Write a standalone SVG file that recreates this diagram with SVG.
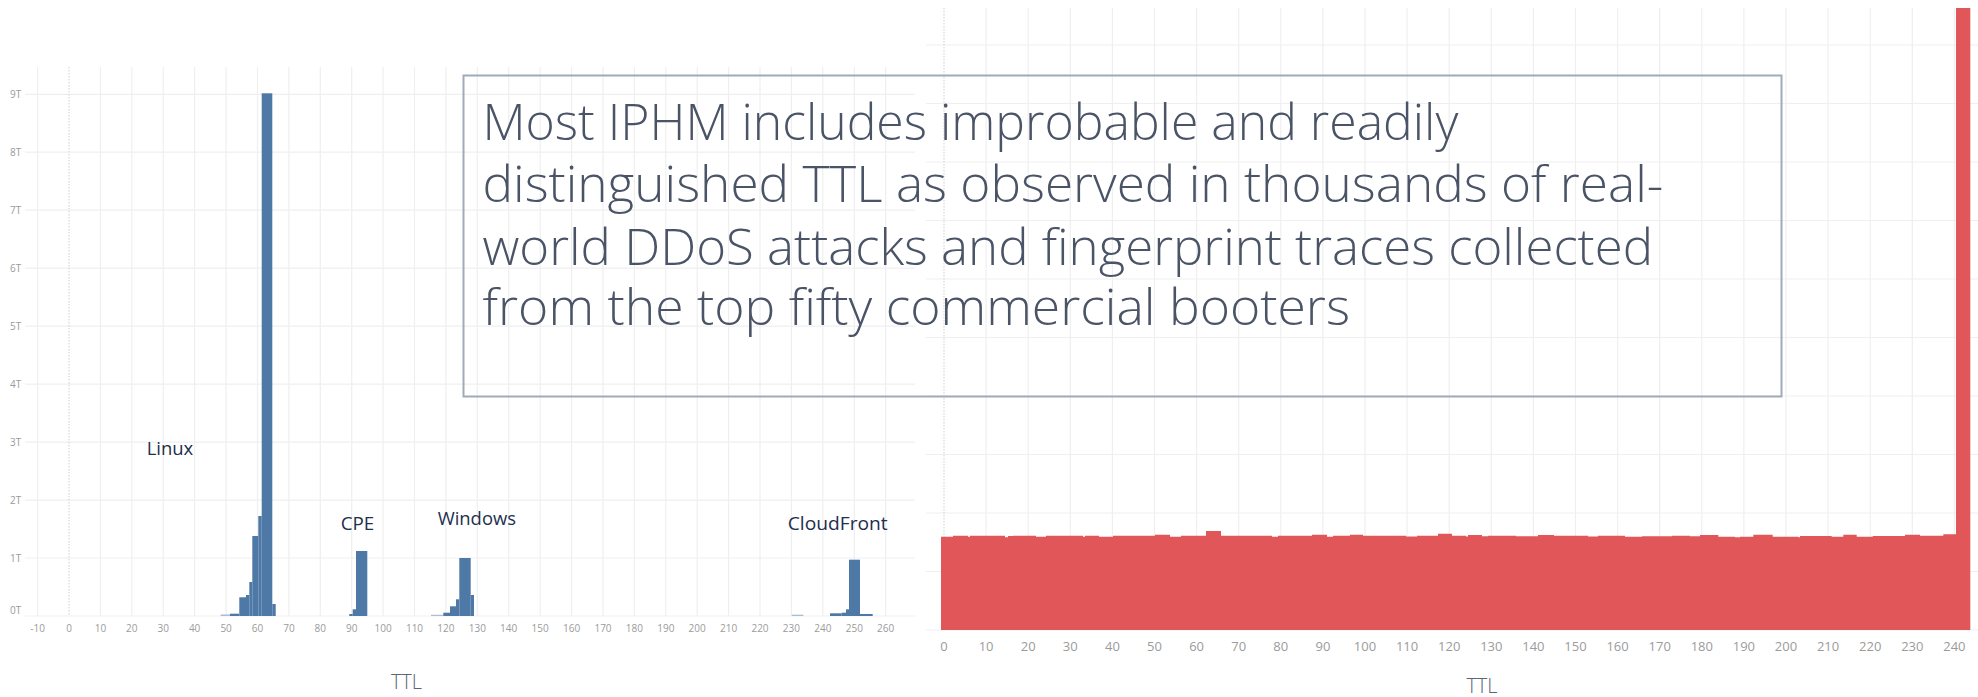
<svg xmlns="http://www.w3.org/2000/svg" width="1978" height="697" viewBox="0 0 1978 697">
<style>
.grid{stroke:#efefef;stroke-width:1.2;fill:none}
.zero{stroke:#cfcfcf;stroke-width:1;stroke-dasharray:1.5 1.5;fill:none}
.tickL{font-family:"Open Sans","Liberation Sans",sans-serif;font-size:10px;fill:#9b9b9b;text-anchor:middle}
.tickY{font-family:"Open Sans","Liberation Sans",sans-serif;font-size:10px;fill:#9b9b9b}
.tickR{font-family:"Open Sans","Liberation Sans",sans-serif;font-size:13px;fill:#9b9b9b;text-anchor:middle}
.axis{font-family:"Open Sans","Liberation Sans",sans-serif;font-size:20px;fill:#5b6577;text-anchor:middle;font-weight:300}
.lbl{font-family:"Open Sans","Liberation Sans",sans-serif;font-size:19px;fill:#222e4d}
.blue{fill:#4e79a7}
.lblue{fill:#a9bdd6}
.red{fill:#e15759}
.call{font-family:"Open Sans","Liberation Sans",sans-serif;font-size:50px;fill:#4a5466;font-weight:300}
</style>
<rect width="1978" height="697" fill="#ffffff"/>

<g id="left-chart">
  <path class="grid" d="M37.6 67V616M100.4 67V616M131.8 67V616M163.2 67V616M194.6 67V616M226.1 67V616M257.5 67V616M288.9 67V616M320.3 67V616M351.7 67V616M383.1 67V616M414.5 67V616M445.9 67V616M477.3 67V616M508.7 67V616M540.2 67V616M571.6 67V616M603 67V616M634.4 67V616M665.8 67V616M697.2 67V616M728.6 67V616M760 67V616M791.4 67V616M822.8 67V616M854.3 67V616M885.7 67V616"/>
  <path class="grid" d="M25 616H915M25 558H915M25 500.1H915M25 442.1H915M25 384.1H915M25 326.2H915M25 268.2H915M25 210.2H915M25 152.2H915M25 94.3H915"/>
  <path class="zero" d="M69 67V616"/>
  <g id="left-yaxis">
    <text class="tickY" x="10" y="613.5">0T</text>
    <text class="tickY" x="10" y="561.5">1T</text>
    <text class="tickY" x="10" y="503.5">2T</text>
    <text class="tickY" x="10" y="445.5">3T</text>
    <text class="tickY" x="10" y="387.5">4T</text>
    <text class="tickY" x="10" y="329.5">5T</text>
    <text class="tickY" x="10" y="271.5">6T</text>
    <text class="tickY" x="10" y="213.5">7T</text>
    <text class="tickY" x="10" y="155.5">8T</text>
    <text class="tickY" x="10" y="97.5">9T</text>
  </g>
  <g id="left-xaxis">
    <text class="tickL" x="37.6" y="631.5">-10</text>
    <text class="tickL" x="69" y="631.5">0</text>
    <text class="tickL" x="100.4" y="631.5">10</text>
    <text class="tickL" x="131.8" y="631.5">20</text>
    <text class="tickL" x="163.2" y="631.5">30</text>
    <text class="tickL" x="194.6" y="631.5">40</text>
    <text class="tickL" x="226.1" y="631.5">50</text>
    <text class="tickL" x="257.5" y="631.5">60</text>
    <text class="tickL" x="288.9" y="631.5">70</text>
    <text class="tickL" x="320.3" y="631.5">80</text>
    <text class="tickL" x="351.7" y="631.5">90</text>
    <text class="tickL" x="383.1" y="631.5">100</text>
    <text class="tickL" x="414.5" y="631.5">110</text>
    <text class="tickL" x="445.9" y="631.5">120</text>
    <text class="tickL" x="477.3" y="631.5">130</text>
    <text class="tickL" x="508.7" y="631.5">140</text>
    <text class="tickL" x="540.2" y="631.5">150</text>
    <text class="tickL" x="571.6" y="631.5">160</text>
    <text class="tickL" x="603" y="631.5">170</text>
    <text class="tickL" x="634.4" y="631.5">180</text>
    <text class="tickL" x="665.8" y="631.5">190</text>
    <text class="tickL" x="697.2" y="631.5">200</text>
    <text class="tickL" x="728.6" y="631.5">210</text>
    <text class="tickL" x="760" y="631.5">220</text>
    <text class="tickL" x="791.4" y="631.5">230</text>
    <text class="tickL" x="822.8" y="631.5">240</text>
    <text class="tickL" x="854.3" y="631.5">250</text>
    <text class="tickL" x="885.7" y="631.5">260</text>
    <text class="axis" x="406.5" y="689">TTL</text>
  </g>
  <g id="left-bars">
    <rect class="lblue" x="220.7" y="614.5" width="9.3" height="1.5"/>
    <rect class="blue" x="230" y="613.7" width="9.3" height="2.3"/>
    <rect class="blue" x="239.3" y="597.3" width="6.7" height="18.7"/>
    <rect class="blue" x="246" y="595" width="3.3" height="21"/>
    <rect class="blue" x="249.3" y="582" width="3" height="34"/>
    <rect class="blue" x="252.3" y="536" width="6" height="80"/>
    <rect class="blue" x="258.3" y="516" width="3.4" height="100"/>
    <rect class="blue" x="261.7" y="93.3" width="10.6" height="522.7"/>
    <rect class="blue" x="272.3" y="604" width="3.4" height="12"/>

    <rect class="blue" x="349.3" y="614" width="3.4" height="2"/>
    <rect class="blue" x="352.7" y="609.3" width="3.3" height="6.7"/>
    <rect class="blue" x="356" y="551" width="11.3" height="65"/>

    <rect class="lblue" x="431" y="614.8" width="12.3" height="1.2"/>
    <rect class="blue" x="443.3" y="612.7" width="6.7" height="3.3"/>
    <rect class="blue" x="450" y="606.3" width="6" height="9.7"/>
    <rect class="blue" x="456" y="599.3" width="3.3" height="16.7"/>
    <rect class="blue" x="459.3" y="558" width="11.4" height="58"/>
    <rect class="blue" x="470.7" y="595" width="3.3" height="21"/>

    <rect class="lblue" x="791.7" y="614.7" width="11.6" height="1.3"/>
    <rect class="blue" x="830" y="613.3" width="11.7" height="2.7"/>
    <rect class="blue" x="841.7" y="612.7" width="4.3" height="3.3"/>
    <rect class="blue" x="846" y="609.3" width="3" height="6.7"/>
    <rect class="blue" x="849" y="559.7" width="11" height="56.3"/>
    <rect class="blue" x="860" y="614" width="12.7" height="2"/>
  </g>
</g>

<g id="right-chart">
  <path class="grid" d="M986.1 8V630M1028.2 8V630M1070.3 8V630M1112.4 8V630M1154.5 8V630M1196.6 8V630M1238.7 8V630M1280.8 8V630M1322.9 8V630M1365 8V630M1407.1 8V630M1449.2 8V630M1491.3 8V630M1533.4 8V630M1575.5 8V630M1617.6 8V630M1659.7 8V630M1701.8 8V630M1743.9 8V630M1786 8V630M1828.1 8V630M1870.2 8V630M1912.3 8V630M1954.4 8V630"/>
  <path class="grid" d="M926 45H1978M926 103.5H1978M926 162H1978M926 220.5H1978M926 279H1978M926 337.5H1978M926 396H1978M926 454.5H1978M926 513H1978M926 571.5H1978M926 630H1978"/>
  <path class="zero" d="M944 8V630"/>
  <path id="right-area" class="red" d="M941 630V536.7H953V535.7H968V536.7H970V535.7H1005V537.3H1008V536H1013V535.7H1036V536.7H1046V535.7H1083V536.7H1085V535.7H1099V536.7H1113V535.7H1155V534.7H1170V536.7H1181V535.7H1206V531H1221V535.7H1272V536.7H1278V535.7H1312V534.7H1327V536.7H1333V535.7H1350V534.7H1363V535.7H1406V536.5H1417V535.7H1438V533.8H1452V535.7H1466V536.5H1468V535H1482V536.3H1488V535.7H1516V536.3H1538V535H1554V535.7H1588V536.5H1598V535.7H1625V536.8H1642V536.3H1672V535.7H1690V536.3H1700V535H1718.3V536.7H1735V537.3H1740V536.7H1753.3V534.7H1772.7V536.7H1798.3V537.3H1800V536H1831.7V536.7H1843.3V534.7H1856.7V536.7H1872.7V536H1905V534.7H1920V535.7H1943.3V534.3H1956V8H1970.3V630Z"/>
  <g id="right-xaxis">
    <text class="tickR" x="944" y="650.5">0</text>
    <text class="tickR" x="986.1" y="650.5">10</text>
    <text class="tickR" x="1028.2" y="650.5">20</text>
    <text class="tickR" x="1070.3" y="650.5">30</text>
    <text class="tickR" x="1112.4" y="650.5">40</text>
    <text class="tickR" x="1154.5" y="650.5">50</text>
    <text class="tickR" x="1196.6" y="650.5">60</text>
    <text class="tickR" x="1238.7" y="650.5">70</text>
    <text class="tickR" x="1280.8" y="650.5">80</text>
    <text class="tickR" x="1322.9" y="650.5">90</text>
    <text class="tickR" x="1365" y="650.5">100</text>
    <text class="tickR" x="1407.1" y="650.5">110</text>
    <text class="tickR" x="1449.2" y="650.5">120</text>
    <text class="tickR" x="1491.3" y="650.5">130</text>
    <text class="tickR" x="1533.4" y="650.5">140</text>
    <text class="tickR" x="1575.5" y="650.5">150</text>
    <text class="tickR" x="1617.6" y="650.5">160</text>
    <text class="tickR" x="1659.7" y="650.5">170</text>
    <text class="tickR" x="1701.8" y="650.5">180</text>
    <text class="tickR" x="1743.9" y="650.5">190</text>
    <text class="tickR" x="1786" y="650.5">200</text>
    <text class="tickR" x="1828.1" y="650.5">210</text>
    <text class="tickR" x="1870.2" y="650.5">220</text>
    <text class="tickR" x="1912.3" y="650.5">230</text>
    <text class="tickR" x="1954.4" y="650.5">240</text>
    <text class="axis" x="1482" y="693">TTL</text>
  </g>
</g>

<g id="label-linux"><text class="lbl" x="146.7" y="455" textLength="46.6" lengthAdjust="spacingAndGlyphs">Linux</text></g>
<g id="label-cpe"><text class="lbl" x="340.7" y="530" textLength="33.6" lengthAdjust="spacingAndGlyphs">CPE</text></g>
<g id="label-windows"><text class="lbl" x="437.7" y="525" textLength="78.3" lengthAdjust="spacingAndGlyphs">Windows</text></g>
<g id="label-cloudfront"><text class="lbl" x="787.7" y="530" textLength="100" lengthAdjust="spacingAndGlyphs">CloudFront</text></g>

<g id="callout">
  <rect x="463.5" y="75.5" width="1318" height="321" fill="none" stroke="#a0abb9" stroke-width="2"/>
  <text class="call" x="482.5" y="140" textLength="975.8" lengthAdjust="spacingAndGlyphs">Most IPHM includes improbable and readily</text>
  <text class="call" x="482.5" y="201.7" textLength="1180.8" lengthAdjust="spacingAndGlyphs">distinguished TTL as observed in thousands of real-</text>
  <text class="call" x="482.5" y="265" textLength="1170.5" lengthAdjust="spacingAndGlyphs">world DDoS attacks and fingerprint traces collected</text>
  <text class="call" x="482.5" y="325" textLength="867.5" lengthAdjust="spacingAndGlyphs">from the top fifty commercial booters</text>
</g>
<g id="connectors"/>
</svg>
